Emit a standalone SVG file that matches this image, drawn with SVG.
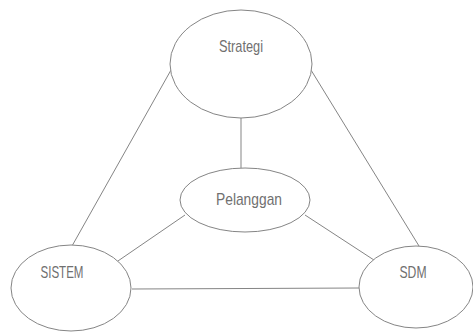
<svg xmlns="http://www.w3.org/2000/svg" width="473" height="334" viewBox="0 0 473 334">
<style>
.n{fill:#fff;stroke:#858585;stroke-width:1}
.c{stroke:#858585;stroke-width:1;fill:none}
.t{font-family:"Liberation Sans Narrow","Liberation Sans",Arial,sans-serif;font-size:17px;fill:#707070;text-anchor:middle}
</style>
<rect width="473" height="334" fill="#fff"/>
<g id="connectors">
<line class="c" x1="171" y1="70" x2="72" y2="246"/>
<line class="c" x1="311" y1="70" x2="419" y2="246"/>
<line class="c" x1="241" y1="118" x2="241" y2="168"/>
<line class="c" x1="185" y1="215" x2="115" y2="263"/>
<line class="c" x1="305" y1="215" x2="377" y2="262"/>
<line class="c" x1="132" y1="289" x2="359" y2="288"/>
</g>
<g id="strategi">
<ellipse class="n" cx="241" cy="64" rx="71" ry="54"/>
<text class="t" x="241" y="52" textLength="44" lengthAdjust="spacingAndGlyphs">Strategi</text>
</g>
<g id="pelanggan">
<ellipse class="n" cx="245" cy="200" rx="65" ry="32"/>
<text class="t" x="249" y="205" textLength="66" lengthAdjust="spacingAndGlyphs">Pelanggan</text>
</g>
<g id="sistem">
<ellipse class="n" cx="71" cy="288" rx="60" ry="43"/>
<text class="t" x="62" y="278" textLength="43" lengthAdjust="spacingAndGlyphs">SISTEM</text>
</g>
<g id="sdm">
<ellipse class="n" cx="416" cy="287" rx="57" ry="41"/>
<text class="t" x="413" y="278" textLength="27" lengthAdjust="spacingAndGlyphs">SDM</text>
</g>
</svg>
